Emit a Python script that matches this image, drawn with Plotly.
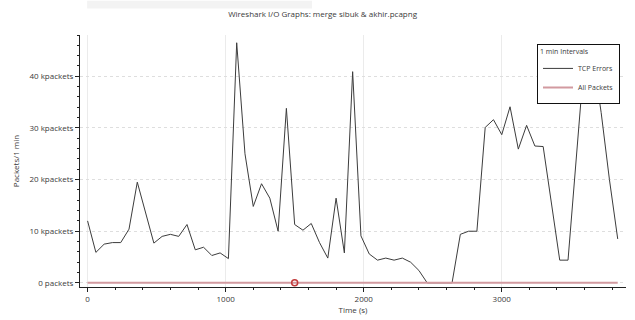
import plotly.graph_objects as go

# I/O graph samples: one bucket per minute
interval_s = 60
time_s = list(range(0, 3841, interval_s))

tcp_errors = [
    12000, 5900, 7500, 7800, 7800, 10400, 19500, 13500, 7700, 9000,
    9400, 9000, 11300, 6400, 6900, 5300, 5800, 4700, 46500, 25000,
    14800, 19200, 16400, 10000, 33800, 11300, 10200, 11500, 7800, 4800,
    16400, 5800, 40900, 9100, 5600, 4400, 4800, 4400, 4800, 4000,
    2400, 0, 0, 0, 0, 9400, 10000, 10000, 30100, 31600,
    28700, 34100, 25900, 30500, 26500, 26400, 15400, 4400, 4400, 24000,
    44000, 44000, 33000, 20000, 8500,
]
all_packets = [0] * len(time_s)

cursor_time = [1500]
cursor_value = [0]

y_tick_vals = [0, 10000, 20000, 30000, 40000]
y_tick_text = ["0 packets", "10 kpackets", "20 kpackets", "30 kpackets", "40 kpackets"]
x_tick_vals = [0, 1000, 2000, 3000]
x_tick_text = ["0", "1000", "2000", "3000"]

FONT = "Open Sans, DejaVu Sans, sans-serif"
TEXT = "#3a3a3a"

fig = go.Figure()

fig.add_trace(go.Scatter(
    x=time_s, y=tcp_errors, mode="lines", name="TCP Errors",
    line=dict(color="#3c3c3c", width=1),
))
fig.add_trace(go.Scatter(
    x=time_s, y=all_packets, mode="lines", name="All Packets",
    line=dict(color="#d29aa0", width=2),
))
fig.add_trace(go.Scatter(
    x=cursor_time, y=cursor_value, mode="markers", showlegend=False,
    marker=dict(symbol="circle-open", size=6, color="#c23b3b", line=dict(width=1.5)),
))

fig.update_layout(
    width=635, height=320,
    margin=dict(l=80, r=9, t=35, b=28),
    paper_bgcolor="white", plot_bgcolor="white",
    font=dict(family=FONT, size=8, color=TEXT),
    title=dict(
        text="Wireshark I/O Graphs: merge sibuk & akhir.pcapng",
        x=0.508, xanchor="center", y=0.955, yanchor="middle",
        font=dict(family=FONT, size=8, color=TEXT),
    ),
    showlegend=True,
    legend=dict(
        title=dict(text="1 min Intervals", font=dict(size=7, color=TEXT)),
        x=0.837, y=0.965, xanchor="left", yanchor="top",
        bgcolor="white", bordercolor="#111111", borderwidth=1,
        font=dict(family=FONT, size=7, color=TEXT),
        itemwidth=30, tracegroupgap=0,
    ),
    xaxis=dict(
        range=[-55, 3900],
        tickvals=x_tick_vals, ticktext=x_tick_text,
        showline=True, linecolor="#222222", linewidth=1,
        ticks="outside", ticklen=4, tickcolor="#222222",
        minor=dict(ticks="outside", dtick=200, ticklen=2, tickcolor="#222222", showgrid=False),
        showgrid=True, gridcolor="#ebebeb", gridwidth=1,
        zeroline=False,
        title=dict(text="Time (s)", standoff=2, font=dict(size=8, color=TEXT)),
        tickfont=dict(size=8, color=TEXT),
    ),
    yaxis=dict(
        range=[-800, 48000],
        tickvals=y_tick_vals, ticktext=y_tick_text,
        showline=True, linecolor="#222222", linewidth=1,
        ticks="outside", ticklen=4, tickcolor="#222222",
        minor=dict(ticks="outside", dtick=2000, ticklen=2, tickcolor="#222222", showgrid=False),
        showgrid=True, gridcolor="#dedede", gridwidth=1, griddash="dot",
        zeroline=False,
        title=dict(text="Packets/1 min", standoff=8, font=dict(size=8, color=TEXT)),
        tickfont=dict(size=8, color=TEXT),
    ),
    shapes=[
        dict(type="rect", xref="paper", yref="paper",
             x0=0.013, x1=0.425, y0=1.105, y1=1.136,
             fillcolor="#f3f3f3", line=dict(width=0), layer="below"),
    ],
)

fig.write_html("out.html")
